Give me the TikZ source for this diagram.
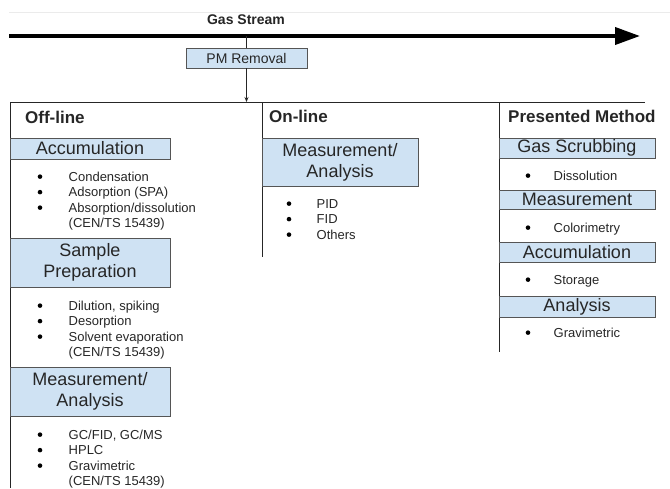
\documentclass[tikz,border=0pt]{standalone}
\usepackage{fontspec}
\setmainfont{Liberation Sans}
\usepackage{tikz}
\usetikzlibrary{positioning, arrows.meta}
\usepackage{xcolor}
\definecolor{boxblue}{HTML}{CFE2F3}
\definecolor{boxline}{HTML}{555555}
\definecolor{inkgray}{HTML}{262626}
\newcommand{\bigdot}{\raisebox{2.1pt}{\tikz\fill[black] (0,0) circle (2.3pt);}}

\begin{document}
\begin{tikzpicture}[
      x=1pt, y=-1pt,
      every node/.style = {text=inkgray},
      stepbox/.style    = {draw=boxline, fill=boxblue, line width=0.8pt, inner sep=0pt,
                           align=center, font=\fontsize{18}{21}\selectfont},
      heading/.style    = {anchor=west, inner sep=0pt, font=\bfseries\fontsize{17}{20}\selectfont},
      itemlist/.style   = {anchor=north west, inner sep=0pt, font=\fontsize{13}{15.5}\selectfont},
      rule/.style       = {draw=inkgray, line width=0.8pt}
    ]
    \useasboundingbox (0,0) rectangle (670,488);
    \draw[black!8, line width=0.8pt] (9,12) -- (670,12);

    % gas stream and PM removal
    \coordinate (gsL) at (9,36);
    \coordinate (gsR) at (640,36);
    \draw[line width=3.8pt, -{Triangle[length=25pt, width=17pt]}] (gsL) -- (gsR);
    \node[inner sep=0pt, font=\bfseries\fontsize{14}{16}\selectfont] (gs) at (246,20) {Gas Stream};
    \node[stepbox, minimum width=121pt, minimum height=20pt, font=\fontsize{14}{16}\selectfont] (pm) at (246.5,58) {PM Removal};
    \draw[rule] (pm.north) -- (pm.north |- gsL);

    % column frame
    \coordinate (hL) at (10,102);
    \coordinate (hR) at (645,102);
    \draw[rule] (hL) -- (hR);
    \draw[rule, -{Stealth[length=5pt, width=4pt]}] (pm.south) -- (pm.south |- hL);
    \draw[rule] (hL) -- (10,488);
    \draw[rule] (262,102) coordinate (onT) -- (262,257);
    \draw[rule] (499,102) coordinate (prT) -- (499,352);

    \node[heading] (offline) at (25,117) {Off-line};
    \node[heading] (online) at (269,116) {On-line};
    \node[heading] (presented) at (508,116) {Presented Method};

    % off-line
    \node[stepbox, minimum width=160pt, minimum height=21pt] (acc1) at (90,148.5) {Accumulation};
    \node[itemlist] (acc1items) at (37.5,170) {\begin{tabular}{@{}p{31pt}@{}l@{}}
      \bigdot & Condensation\\
      \bigdot & Adsorption (SPA)\\
      \bigdot & Absorption/dissolution\\
              & (CEN/TS 15439)
    \end{tabular}};
    \node[stepbox, minimum width=160pt, minimum height=49pt] (prep1) at (90,262.5) {Sample\\Preparation};
    \node[itemlist] (prep1items) at (37.5,299) {\begin{tabular}{@{}p{31pt}@{}l@{}}
      \bigdot & Dilution, spiking\\
      \bigdot & Desorption\\
      \bigdot & Solvent evaporation\\
              & (CEN/TS 15439)
    \end{tabular}};
    \node[stepbox, minimum width=160pt, minimum height=49pt] (meas1) at (90,391.5) {Measurement/\\Analysis};
    \node[itemlist] (meas1items) at (37.5,428) {\begin{tabular}{@{}p{31pt}@{}l@{}}
      \bigdot & GC/FID, GC/MS\\
      \bigdot & HPLC\\
      \bigdot & Gravimetric\\
              & (CEN/TS 15439)
    \end{tabular}};

    % on-line
    \node[stepbox, minimum width=156pt, minimum height=48pt] (meas2) at (340,162) {Measurement/\\Analysis};
    \node[itemlist] (meas2items) at (286.5,197) {\begin{tabular}{@{}p{30pt}@{}l@{}}
      \bigdot & PID\\
      \bigdot & FID\\
      \bigdot & Others
    \end{tabular}};

    % presented method
    \node[stepbox, minimum width=156pt, minimum height=20pt] (scrub3) at (577,148) {Gas Scrubbing};
    \node[itemlist] (scrub3items) at (525.5,169) {\begin{tabular}{@{}p{28pt}@{}l@{}}
      \bigdot & Dissolution
    \end{tabular}};
    \node[stepbox, minimum width=156pt, minimum height=19pt] (meas3) at (577,199.5) {Measurement};
    \node[itemlist] (meas3items) at (525.5,221) {\begin{tabular}{@{}p{28pt}@{}l@{}}
      \bigdot & Colorimetry
    \end{tabular}};
    \node[stepbox, minimum width=156pt, minimum height=20pt] (acc3) at (577,252) {Accumulation};
    \node[itemlist] (acc3items) at (525.5,273) {\begin{tabular}{@{}p{28pt}@{}l@{}}
      \bigdot & Storage
    \end{tabular}};
    \node[stepbox, minimum width=156pt, minimum height=21pt] (anal3) at (577,306.5) {Analysis};
    \node[itemlist] (anal3items) at (525.5,326) {\begin{tabular}{@{}p{28pt}@{}l@{}}
      \bigdot & Gravimetric
    \end{tabular}};
  \end{tikzpicture}
\end{document}
